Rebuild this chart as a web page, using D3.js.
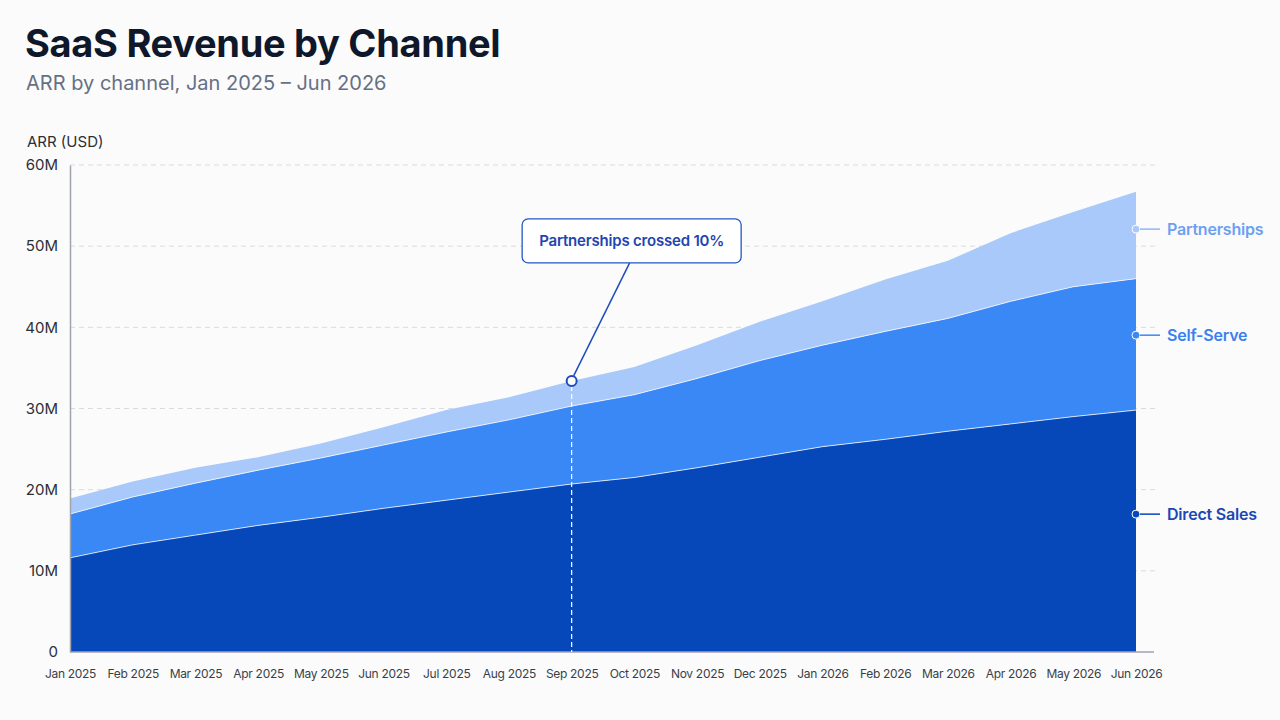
<!DOCTYPE html>
<html>
<head>
<meta charset="utf-8">
<script src="https://cdn.jsdelivr.net/npm/d3@7"></script>
<style>
  html, body { margin: 0; padding: 0; background: #fbfbfb; }
  svg { display: block; font-family: Inter, "Noto Sans", sans-serif; }
</style>
</head>
<body>
<svg id="chart" width="1280" height="720"></svg>
<script>
// ---- Data (values in millions USD) ----
const months = ["Jan 2025","Feb 2025","Mar 2025","Apr 2025","May 2025","Jun 2025","Jul 2025","Aug 2025","Sep 2025","Oct 2025","Nov 2025","Dec 2025","Jan 2026","Feb 2026","Mar 2026","Apr 2026","May 2026","Jun 2026"];
const directSales  = [11.6,13.2,14.4,15.6,16.6,17.7,18.7,19.7,20.7,21.5,22.7,24.0,25.3,26.2,27.2,28.1,29.0,29.8];
const selfServe    = [5.4,5.9,6.4,6.8,7.3,7.8,8.4,8.9,9.6,10.2,11.0,11.9,12.5,13.3,13.9,15.1,16.0,16.2];
const partnerships = [1.9,1.9,1.9,1.6,1.8,2.2,2.7,2.8,3.1,3.4,4.1,4.8,5.4,6.4,7.1,8.4,9.2,10.7];
const seriesNames  = ["Direct Sales","Self-Serve","Partnerships"];
const yTicks       = [0,10,20,30,40,50,60];
const annotationMonth = "Sep 2025";
const annotationText  = "Partnerships crossed 10%";

const colors = { "Direct Sales": "#0647b9", "Self-Serve": "#3a87f6", "Partnerships": "#a8c9fa" };
const labelColors = { "Direct Sales": "#1c47b4", "Self-Serve": "#3a80ef", "Partnerships": "#6ea0f0" };

const table = months.map((m, i) => ({
  month: m,
  "Direct Sales": directSales[i],
  "Self-Serve": selfServe[i],
  "Partnerships": partnerships[i]
}));

const svg = d3.select("#chart");
const margin = { left: 70, right: 1136, top: 165, bottom: 652 };

const x = d3.scalePoint().domain(months).range([margin.left, margin.right]);
const y = d3.scaleLinear().domain([0, 60]).range([margin.bottom, margin.top]);

// Title
svg.append("text").attr("x", 25).attr("y", 57)
  .attr("font-size", 38).attr("font-weight", 700).attr("fill", "#0f172a")
  .attr("letter-spacing", "-0.3")
  .text("SaaS Revenue by Channel");
svg.append("text").attr("x", 26).attr("y", 90)
  .attr("font-size", 20).attr("fill", "#667085")
  .text("ARR by channel, Jan 2025 \u2013 Jun 2026");
svg.append("text").attr("x", 27).attr("y", 147)
  .attr("font-size", 15).attr("fill", "#2b2f36")
  .text("ARR (USD)");

// Gridlines
svg.append("g").selectAll("line").data(yTicks.filter(d => d > 0)).join("line")
  .attr("x1", margin.left).attr("x2", 1155)
  .attr("y1", d => y(d)).attr("y2", d => y(d))
  .attr("stroke", "#d9dbe0").attr("stroke-width", 1).attr("stroke-dasharray", "5,4");

// Stack
const stack = d3.stack().keys(seriesNames);
const stacked = stack(table);

const area = d3.area()
  .x(d => x(d.data.month))
  .y0(d => y(d[0]))
  .y1(d => y(d[1]));

svg.append("g").selectAll("path").data(stacked).join("path")
  .attr("d", area)
  .attr("fill", d => colors[d.key]);

// White separator lines on top of each band (except top)
const topLine = d3.line().x(d => x(d.data.month)).y(d => y(d[1]));
svg.append("g").selectAll("path").data(stacked.slice(0, 2)).join("path")
  .attr("d", topLine)
  .attr("fill", "none").attr("stroke", "#ffffff").attr("stroke-opacity", 0.75).attr("stroke-width", 1);

// Axes
const yAxis = d3.axisLeft(y).tickValues(yTicks).tickSize(0).tickPadding(12)
  .tickFormat(d => d === 0 ? "0" : d + "M");
const gy = svg.append("g").attr("transform", `translate(${margin.left},0)`).call(yAxis);
gy.select(".domain").attr("stroke", "#a0a4ab").attr("stroke-width", 1.5);
gy.selectAll("text").attr("font-size", 15).attr("fill", "#2b2f36").attr("font-family", "Inter, sans-serif");

const xAxis = d3.axisBottom(x).tickSize(0).tickPadding(17);
const gx = svg.append("g").attr("transform", `translate(0,${margin.bottom})`).call(xAxis);
gx.select(".domain").attr("d", `M${margin.left},0H1154`).attr("stroke", "#a0a4ab").attr("stroke-width", 1.5);
gx.selectAll("text").attr("font-size", 12).attr("fill", "#3a3f47")
  .attr("letter-spacing", "-0.3").attr("font-family", "Inter, sans-serif");

// Annotation
const ai = months.indexOf(annotationMonth);
const ax = x(annotationMonth);
const ay = y(stacked[2][ai][1]);
svg.append("line")
  .attr("x1", ax).attr("x2", ax).attr("y1", ay + 5).attr("y2", margin.bottom)
  .attr("stroke", "#ffffff").attr("stroke-width", 1.2).attr("stroke-dasharray", "5,3");

const boxW = 219, boxH = 44;
const boxCx = ax + 60, boxTop = ay - 162;
svg.append("line")
  .attr("x1", boxCx - 2).attr("y1", boxTop + boxH)
  .attr("x2", ax + 2).attr("y2", ay - 5)
  .attr("stroke", "#1e4bbf").attr("stroke-width", 1.5);
svg.append("rect")
  .attr("x", boxCx - boxW / 2).attr("y", boxTop).attr("width", boxW).attr("height", boxH)
  .attr("rx", 6).attr("fill", "#ffffff").attr("stroke", "#2457c5").attr("stroke-width", 1.3);
svg.append("text")
  .attr("x", boxCx).attr("y", boxTop + boxH / 2 + 5.5)
  .attr("text-anchor", "middle").attr("font-size", 15).attr("font-weight", 600)
  .attr("fill", "#1e46b0").attr("letter-spacing", "-0.2")
  .text(annotationText);
svg.append("circle").attr("cx", ax).attr("cy", ay).attr("r", 5)
  .attr("fill", "#ffffff").attr("stroke", "#1e4bbf").attr("stroke-width", 2);

// End labels
const last = months.length - 1;
const lx = x(months[last]);
const labels = svg.append("g");
stacked.forEach(s => {
  const d = s[last];
  const ly = y(d[0] + 0.57 * (d[1] - d[0]));
  labels.append("circle").attr("cx", lx).attr("cy", ly).attr("r", 4)
    .attr("fill", colors[s.key]).attr("stroke", "#ffffff").attr("stroke-width", 1);
  labels.append("line").attr("x1", lx + 4).attr("x2", lx + 24).attr("y1", ly).attr("y2", ly)
    .attr("stroke", colors[s.key] === "#a8c9fa" ? "#8fb6f5" : colors[s.key]).attr("stroke-width", 1.5);
  labels.append("text").attr("x", lx + 31).attr("y", ly + 5.5)
    .attr("font-size", 16).attr("font-weight", 600).attr("fill", labelColors[s.key])
    .attr("letter-spacing", "-0.2")
    .text(s.key);
});
</script>
</body>
</html>
